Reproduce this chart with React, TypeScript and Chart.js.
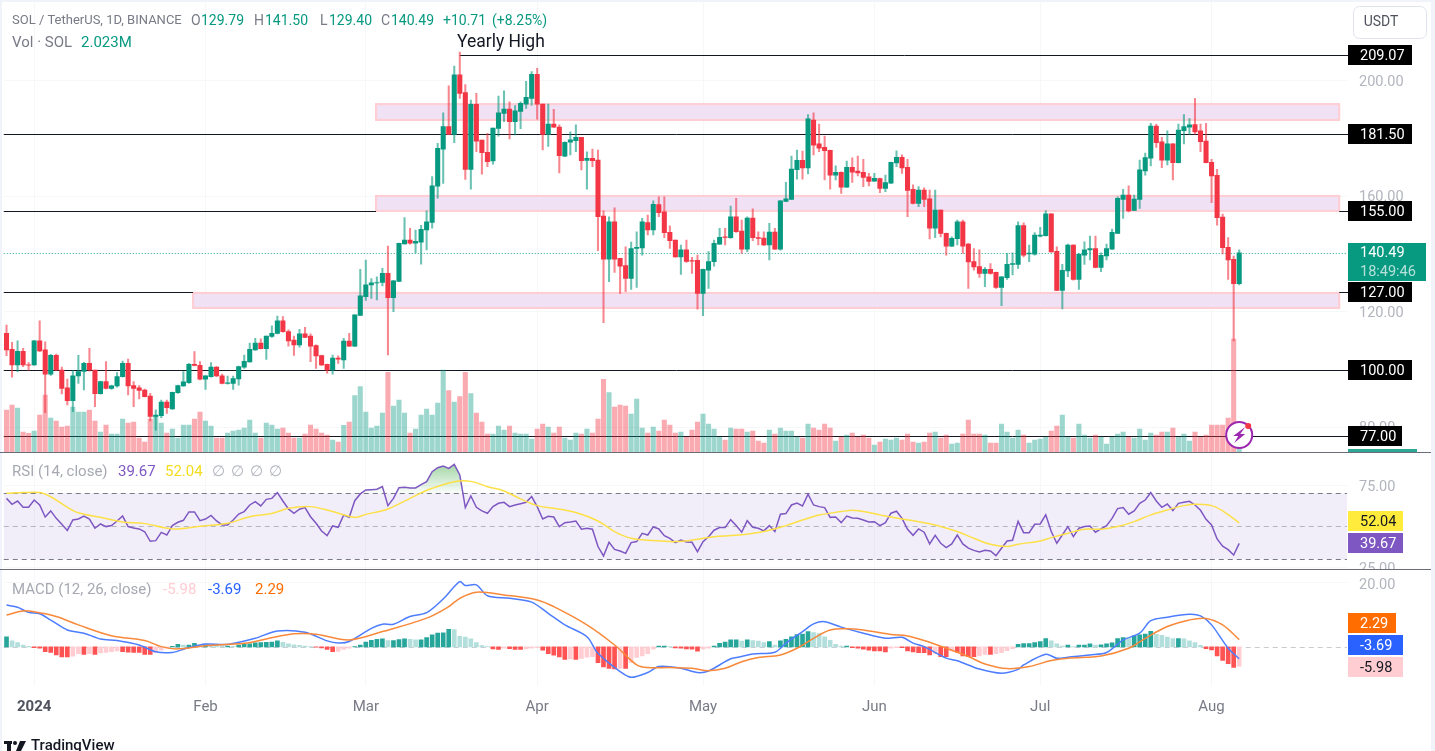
import { useEffect, useRef } from 'react';
import { Chart, registerables } from 'chart.js';

Chart.register(...registerables);

const SLOT_COUNT = 243;
const opens = [
  112.6,107.1,101.7,106.4,101.7,101.7,110,106.9,98.5,105,
  99.9,93.7,89.3,97.9,99.4,102.2,99.9,91.7,95.9,93.5,
  94.4,97.6,102.2,94.5,93.7,93,90.9,83.8,84.1,88.8,
  86.4,92.1,94.4,95.5,101.9,101.5,96.7,97.6,100.9,97.9,
  95.3,95.3,96.8,100.9,102.7,106.9,109.2,107.3,111.5,112.6,
  116.9,113.2,110.3,108.6,112.4,111.7,108.4,104.9,101.9,99.9,
  104,103.4,109.9,108.2,118.8,125.3,129.4,130.1,130.2,133.4,
  125,130.6,143.6,144.9,143.8,144.2,148.4,151,163.6,176.4,
  184.2,181.5,202.1,196,169.4,191.9,179.5,175.3,172.3,183.6,
  188.8,190.3,185.9,189.5,192,194,202.3,192,181.5,185.1,
  184,174,178.8,179.3,180.5,172.5,173.2,172.6,153.2,138.3,
  151.2,138.6,136.1,131.6,142,142.2,151,148.4,157.2,154.7,
  147.6,144.9,139.1,141.5,137.8,137.9,126.4,134.5,137.4,143.5,
  146,145.7,153,148,141.8,152.5,145.8,145.6,143.2,147.7,
  141.8,158.3,159,169.3,172.5,169.9,186.5,178.2,177,176,
  167.4,168.4,163.2,170.1,168.8,168.4,166.8,165.3,166.2,162.8,
  164.6,171.6,173.6,170.1,162.5,157.6,162.2,159.2,149,155.3,
  147.2,142.8,145.4,151.2,143.5,137.5,135.7,133.4,134.8,133.7,
  128.5,131.9,136.5,136.5,149.9,140.1,140,146.3,146.4,154,
  141,127.5,134.2,143.2,131.3,139.7,141.5,142,135.4,139.4,
  141.8,147.2,159,160.5,155.2,159,168.9,173.3,184.4,178.9,
  172.6,178.2,171.7,182.8,184,184.9,182.7,179.2,171.8,167.3,
  152.9,142.4,138.2,129.79,
];
const closes = [
  106.9,101.7,106.4,101.7,101.6,110,106.5,98.5,105,99.9,
  93.5,89.3,97.9,99.4,102.2,99.9,91.7,95.9,93.5,94.4,
  97.6,102.2,94.4,93.5,92.8,90.7,83.8,84.3,88.8,86.9,
  92.2,94.5,95.8,101.9,101.5,96.7,97.9,100.9,97.9,95.3,
  95.5,96.9,101.1,102.9,107.1,109.2,107.3,111.7,112.6,116.9,
  113.2,110,108.6,112.4,111.2,108.2,104.8,101.7,99.9,104,
  103.7,109.9,108.2,119,125.6,129.4,130.1,130.2,133.4,125,
  130.8,143.8,144.9,143.8,144.5,148.6,151.2,163.7,176.7,184.2,
  181.5,202.1,195.7,169.4,191.9,179.2,175.2,172.1,183.7,189,
  190.3,185.9,189.7,192.3,194.3,202.3,192,181.5,185.1,184,
  174.1,178.8,179.6,180.5,172.4,173.2,172.4,153,138.3,151.2,
  138.3,135.9,131.6,142,142.4,151.2,148.4,157.3,154.4,147.5,
  144.7,139.1,141.5,137.5,137.6,126.4,134.8,137.5,143.8,145.9,
  145.8,153,147.8,141.8,152.5,145.7,145.5,143.2,147.7,141.8,
  158.5,159.2,169.5,172.5,169.9,186.9,177.8,176.7,175.9,167.4,
  168.4,163.2,170.1,168.4,168.2,166.6,165.2,166.3,162.8,164.8,
  171.8,173.6,169.9,162.1,157.6,162.2,159,149,155.3,147.2,
  142.8,145.5,151.2,142.8,137.3,135.6,133.4,134.8,133.4,128.5,
  132.2,136.5,136.8,149.9,139.7,140.4,146.6,146.6,154,140.8,
  127.5,134.4,143.2,131.3,140,141.5,142,135.4,139.6,142,
  147.6,159.4,160.5,155,159.1,169.2,173.5,184.4,178.6,172.6,
  178.2,171.7,183,184.2,184.8,182.4,179,171.7,167.1,152.7,
  142.3,138,129.79,140.49,
];
const highs = [
  115.5,109.5,110,107.4,102.5,110.2,116.9,109.7,105.3,105.4,
  100.9,96.8,99.7,105,102.6,107.4,99.9,96.1,102.8,94.7,
  99,103,103.7,95.9,94.5,93.3,91.8,86.1,89.5,89.5,
  92.3,94.7,99.4,102.2,106.3,102.8,98,102.5,101.1,98.5,
  97.8,97.8,101.3,105.1,109.2,110.9,110.7,111.7,115.2,118.6,
  118.4,113.8,111.7,114,114.7,112.4,108.6,105.1,102,105.1,
  104.8,110.9,112.6,119,134.8,138,131.6,132.2,135.1,142.8,
  131,143.9,152.7,149,148.4,150,155,166.9,178.4,189,
  198.3,205.2,210,198.8,193.4,195.7,179.5,181.9,183.7,194.8,
  196.6,192.8,191.5,192.8,199.9,203.3,204.4,192,192,190.2,
  184.8,178.9,182.4,184.8,180.5,175.5,176.4,176.1,155,153,
  156.1,138.6,142.6,144.2,147.8,152.4,153.6,158.5,159.9,159.9,
  149.8,144.9,143.2,144.9,138.9,139.7,134.9,140.9,144.9,149,
  149,156.7,159.4,151.8,153,155.7,147.8,147.8,150.7,149,
  158.6,164.9,174,176.1,175.7,188.4,189,185.1,180.9,176.1,
  170.6,168.5,172.3,173.4,174,172.9,168,168,166.4,167.4,
  171.9,175.8,174.4,172.9,164,163.4,163,162.2,162.2,155.4,
  147.3,146,151.8,151.8,143.8,142,141.5,135.4,136.8,133.8,
  132.3,140.3,140.5,151.2,150.9,143.2,147.5,149.3,155.1,154.1,
  142.6,136.5,143.5,143.3,140.3,144.3,146.3,146.3,140.5,143.5,
  148.7,159.9,162.5,163.7,160.5,172.6,175,185.3,185.1,180.5,
  182.7,178.3,185.1,188.4,187,194,185.1,185.3,172.9,169.4,
  153.9,145.8,139.4,141.5,
];
const lows = [
  104.9,97.4,99.3,101.1,99.8,101.5,106.3,85.1,98,99.7,
  91.6,87.8,85.5,95.3,93,99.5,87.2,91.5,93.4,93.2,
  94,97.4,91.3,87.2,89.9,90.6,82.3,79.1,83.4,84.9,
  86.3,91.8,94.2,95.3,101.3,96.5,93.2,97.4,97.6,95.1,
  95,93.2,94.7,100.5,102.6,106.7,107.2,103.6,111.2,112.4,
  113,108.2,105,107.8,111.1,102.8,100.5,101.4,98.8,98.5,
  102.2,100.5,108.1,108,118.7,124,124.7,124.2,129,105.1,
  120.1,130.5,143.5,143.5,140.5,136.6,141.5,149,159.4,164.5,
  181.4,178.6,194,165.9,162.5,175.5,167.7,170.3,171.2,180.9,
  185.9,179.9,181.3,183.5,190.5,191.6,186.8,176.1,177.3,183.9,
  168.2,173.8,174.4,175.5,169.2,162.5,170.3,141.2,116.3,130.5,
  133.7,126.4,127,127.8,128.5,139.7,146.7,146.7,153,145.7,
  142,139,133,137.2,133.4,121,118.7,128.2,135.9,143.4,
  143.2,145.5,147.6,140.3,140.9,144.7,143.2,143,138,141.7,
  141.4,158.2,159,166,166,167.8,174.4,175.5,165.7,162.5,
  165.7,161.1,163.1,164.9,167.1,163.4,163.7,165.2,161.3,161.7,
  164.5,170.3,168,153,157.4,156.5,156.5,145.3,145.7,146,
  139.7,142.6,143.2,140.3,128.2,134.5,132,128.8,133.1,128.2,
  122.2,131.3,132.8,135.1,139.1,137.4,139.7,146,146.3,140.7,
  127.4,121.1,132.2,131,127.8,136.5,138,135.3,134,138,
  141.7,147.1,152.4,154.7,155.1,155.9,167.4,170.6,177,170,
  170.9,165.7,171.6,178.2,181.5,181.6,175.5,171.6,157.9,150.1,
  140.1,131.3,110,129.4,
];
const volumes = [
  25.2,28.2,26.4,12,11.2,12.6,22.2,34.2,20.4,18.6,
  15,15.6,27,24,24,25.2,18.6,12,16.2,10.8,
  10.8,19.8,17.4,18,8.4,6,19.8,21.6,17.4,11.4,
  13.8,8.4,16.2,16.2,19.8,24,18.6,15.6,8.4,8.4,
  11.4,12.6,13.2,14.4,19.2,11.4,8.4,17.4,16.2,13.8,
  14.4,11.4,8.4,8.4,10.8,16.2,13.8,11.4,10.2,7.2,
  6,16,18,33.8,39.2,24,14.4,15.6,23.4,47.8,
  27.6,31.2,23.4,11.4,13.8,22.2,25.8,22.2,29.4,49.2,
  36.8,30,33.2,47.8,35,23.4,18,10.8,10.8,15.6,
  13.2,15.6,11.4,10.8,10.8,7.8,13.8,16.8,15,11.4,
  15,8.4,7.2,11.4,10.8,13.8,11.4,19.8,43.6,35.6,
  27,28.2,27.6,22.8,31.8,14.4,11.4,15,12.6,19.2,
  16.2,11.4,12,9,13.2,18,22.8,16.8,13.8,9,
  7.2,14.4,13.8,13.8,12,12.6,6.6,5.4,13.2,10.8,
  14.4,12.6,12.6,9,8.4,16.8,14.4,13.2,16.8,14.4,
  6.6,9,10.2,11.4,9,10.2,8.4,4.2,6,7.8,
  7.2,8.4,7.2,10.8,6,5.4,6,11.4,12,8.4,
  10.2,4.8,5.4,10.8,19.2,10.8,10.8,10.2,5.4,5.4,
  16.8,12,8.4,13.2,10.2,5.4,7.2,7.8,9,12.6,
  15.6,22.2,9,8.4,16.8,10.2,8.4,10.2,9,4.8,
  9,10.8,12,9,8.4,13.8,7.2,11.4,10.2,12,
  12,14.4,9,10.8,6.6,12,9,10.2,16.2,16.2,
  16.2,20.4,67.8,2.023,
];
const rsi = [
  66.9,63.3,65.3,61.5,61.5,65.9,62.9,55.6,59.3,54.8,
  51.2,47.5,53.8,54.4,56.2,54.4,48.8,51.4,49.8,50.4,
  53.2,56.2,49.8,49,48.4,46.7,40.9,41.3,46.3,44.7,
  50.4,52.4,53.6,58.7,58.7,53.4,54.4,56.6,53.2,50.8,
  50.8,53.8,57.4,58.9,62.9,64.9,62.3,66.3,66.9,70.4,
  65.3,60.5,57.8,60.3,61.3,55.8,51.8,47.1,44.3,50.2,
  49.4,56.8,55.4,65.5,69.6,72,72.2,72.4,74,62.5,
  66.9,73.4,73.6,73.2,73.2,75.2,77,83.1,85.5,86.5,
  85.1,87.5,81.1,61.3,68.4,61.5,59.3,57.9,61.9,63.9,
  64.5,61.9,62.9,63.7,64.5,68,61.9,54.4,56,55.6,
  49.8,52.2,52.6,53.2,48.2,48.8,48.2,37.7,32,40.3,
  36,35,33.6,40.1,40.7,45.7,44.7,49.6,48.4,44.3,
  42.7,40.1,41.7,40.5,40.3,34.6,40.7,43.7,47.6,49.2,
  49.2,54,50.4,46.4,53.4,49.4,48.8,47.2,50.4,46.8,
  57.3,57.7,62.9,64.1,62.3,69.4,62.9,61.9,61.3,55.4,
  55.6,52.2,56.2,55,54.8,53.8,52.6,52.8,50.4,52.2,
  57.9,59.1,54.8,48.2,44.5,48.4,46.4,39.3,44.5,39.7,
  37.1,39.3,44.7,39.3,36.7,35.4,34.4,35.4,35,32.2,
  36.7,41.1,41.5,53,46.1,46.1,51.2,51.4,56.9,46.8,
  39.7,44.7,49.8,43.7,48.8,49.8,50.2,46.4,48.4,50.4,
  54.8,60.7,61.3,57.3,59.3,63.9,65.9,70.4,65.3,61.5,
  63.5,59.5,63.9,64.5,65.1,62.9,59.7,54.2,50.8,42.3,
  37.9,35.8,32.6,39.67,
];
const histogram = [
  3.2,1.9,1.4,.6,.2,-.2,-.4,-1.5,-1.7,-2.5,
  -3.1,-3.1,-2.9,-2.1,-2.3,-2.1,-2.3,-1.9,-1.7,-1.5,
  -1.25,-1.5,-1.6,-1.7,-1.7,-2.3,-2.3,-1.7,-1,-.4,
  .2,.8,.6,.6,1.1,.6,.7,.5,.4,.3,
  .3,.2,.6,.8,1,1.25,1.35,1.45,1.55,1.9,
  1.45,1,.7,.5,.3,.1,-.1,-.3,-.8,-1.5,
  -1.4,-.8,-.4,.1,.6,1.55,2.1,2.4,2.5,2,
  2,2.3,2.5,2.4,2.2,2.2,2.9,3.75,4.3,4.4,
  5.5,5.4,3.3,3.1,2.5,1.35,.4,.1,-.6,-.8,
  -.4,-.5,-.8,-.8,-.6,-.4,-.2,-1,-2.1,-2.6,
  -3.1,-3.9,-3.75,-3.9,-3.6,-3.2,-3,-4.9,-6.25,-6.7,
  -6.9,-6.7,-6.7,-4.9,-3.3,-2.8,-2.1,-.7,.3,.3,
  .1,-.3,-.4,-.6,-.7,-1.35,-.7,-.4,.3,1.15,
  1.55,2.2,2.2,1.8,2.2,2,1.8,1.35,1.65,.6,
  1.9,2.4,3.2,3.85,4,4.8,4.5,4.2,3.2,2.1,
  .8,.3,.3,-.2,-.4,-.7,-1,-1.25,-1.25,-1.55,
  -.4,-.2,-.2,-1.25,-1.55,-1.75,-1.75,-2.5,-2.1,-3,
  -3,-1.25,-1.6,-2.8,-3,-3,-2.8,-2.3,-2.3,-2.1,
  -1.75,-1.15,-.5,.8,1.05,1.05,1.35,1.65,2.6,1.9,
  .95,.3,.6,.1,.6,.6,.95,.6,.7,.95,
  1.25,2.6,2.9,2.8,3.45,3.75,4,4.9,3.95,3.65,
  3.1,2.6,2.6,2.5,1.9,1.35,.5,-.5,-.95,-2.8,
  -4.2,-5.2,-6.4,-5.98,
];

const rsiMaAt = [0,3,6,8,11,13,17,21,25,30,35,40,44,48,51,55,59,63,65,69,74,77,81,84,87,90,93,96,99,103,107,110,113,117,121,125,128,132,137,141,144,147,151,153,155,158,161,165,168,172,175,178,181,183,187,189,192,195,198,201,204,207,210,213,215,218,220,223];
const rsiMaValues = [70,70.4,70.4,67.9,61.5,58.2,55.4,52.6,51.6,48.4,50,51.8,55.8,57.8,60.9,61.9,58.9,55.4,57.2,60.5,68.6,73,77,77.2,74,71.4,66.6,62.5,60.9,58.3,53.2,46.8,42.7,41.3,40.7,42.1,43.7,44.5,46.8,50.4,53.8,56.8,58.9,59.7,58.9,56.9,55,52.8,50.8,46.8,42.7,39.1,37.7,39.1,41.1,43.1,45.8,48.2,48.2,49.8,52.8,56.9,59.9,62.5,63.3,62.5,59.3,52.04];
const macdAt = [0,2,4,6,8,11,14,17,20,24,27,30,33,36,40,45,49,54,58,60,62,66,68,70,73,76,79,82,83,85,87,91,95,98,101,105,107,111,113,116,118,122,125,127,131,133,135,139,141,144,146,148,151,155,159,162,164,166,170,172,176,180,183,184,188,190,192,196,199,202,205,207,210,214,216,218,221,223];
const macdValues = [13.1,12.4,10.8,10.4,8.4,5.3,4.3,2.5,2,.6,-1.5,-1.7,-.2,.9,.8,2.7,5,4.6,1.9,1.25,1.7,5.8,7.1,7.1,9.5,10.7,15,20.4,19.2,19.4,16,15.2,14,10.5,6.9,3.2,-2,-7.7,-9.5,-8,-6.1,-6.65,-8,-7.5,-3.7,-3,-2.2,-1.65,1.2,4.8,7.2,7.9,6.2,4.3,2.7,3,1.2,.1,-3.5,-4.3,-6.9,-8.2,-7,-5.6,-2.3,-3.5,-3.2,-2.5,-1.75,2.2,4.3,8.2,9.3,10.2,9.7,6.9,-.4,-3.69];
const signalAt = [0,3,5,9,13,19,25,28,31,36,43,47,52,56,62,68,76,80,82,85,90,96,99,105,110,114,116,120,124,127,130,133,136,140,143,146,149,152,155,160,163,166,170,174,177,181,185,189,192,198,203,206,210,214,217,220,223];
const signalValues = [10,11.25,11,9.5,6.9,3.5,2,.1,-.6,.4,1.15,2.5,4.1,4,2.2,4.8,9,12.6,15.2,17.1,16.25,14.7,12.6,6.9,.6,-5.6,-6.45,-6.45,-6.65,-7.4,-6.65,-4.6,-3.3,-2.5,-.4,2.7,5.3,5.7,5.3,3.9,3.45,2,-.4,-3,-5.3,-6.75,-6.1,-4.25,-3.5,-2.8,-.4,2.7,6.4,8.45,8.9,6.9,2.29];

const tickIndexes = [5, 36, 65, 96, 126, 157, 187, 218];
const tickNames = ['2024', 'Feb', 'Mar', 'Apr', 'May', 'Jun', 'Jul', 'Aug'];
const priceTicks = [200, 160, 120, 80];
const rsiTicks = [75, 25];
const macdTicks = [20];
const lastPrice = 140.49;

const UP = '#089981';
const DOWN = '#f23645';
const FONT = 'Roboto, sans-serif';

const startDate = Date.UTC(2023, 11, 26);
const labels = Array.from({ length: SLOT_COUNT }, (_, i) =>
  new Date(startDate + i * 86400000).toISOString().slice(0, 10));

const sparse = (at: number[], values: number[]) => {
  const out: (number | null)[] = new Array(opens.length).fill(null);
  at.forEach((idx, k) => { out[idx] = values[k]; });
  return out;
};

const histColor = (v: number, i: number) => {
  const prev = i > 0 ? histogram[i - 1] : v;
  if (v >= 0) return v >= prev ? '#26a69a' : '#b2dfdb';
  return v <= prev ? '#ff5252' : '#ffcdd2';
};

const fixedTicks = (values: number[]) => (scale: any) => {
  scale.ticks = values.map((value) => ({ value }));
};
const noPadding = (scale: any) => {
  scale.paddingTop = 0;
  scale.paddingBottom = 0;
  scale.paddingLeft = 0;
  scale.paddingRight = 0;
};
const fixWidth = (scale: any) => {
  scale.width = 88;
  noPadding(scale);
};

const decorations = {
  id: 'decorations',
  beforeDatasetsDraw(chart: any) {
    const { ctx, chartArea, scales } = chart;
    const { x, y, yRsi, yMacd } = scales;
    const L = chartArea.left;
    const R = chartArea.right;
    const boxRight = x.getPixelForValue(241.1);
    ctx.save();

    const boxes = [
      { from: 66.85, top: 192, bottom: 186.5 },
      { from: 66.85, top: 160.2, bottom: 155 },
      { from: 33.75, top: 126.6, bottom: 121.4 },
    ];
    boxes.forEach((b) => {
      const bx = x.getPixelForValue(b.from);
      const by = y.getPixelForValue(b.top);
      const bh = y.getPixelForValue(b.bottom) - by;
      ctx.fillStyle = '#f0e1f4';
      ctx.fillRect(bx, by, boxRight - bx, bh);
      ctx.strokeStyle = '#ffcdd2';
      ctx.lineWidth = 2;
      ctx.strokeRect(bx, by, boxRight - bx, bh);
    });

    const segments: [number, number, number][] = [
      [209.07, x.getPixelForValue(82), R + 2],
      [181.5, L, R + 2],
      [155, L, x.getPixelForValue(66.85)],
      [155, boxRight, R + 2],
      [127, L, x.getPixelForValue(33.75)],
      [127, boxRight, R + 2],
      [100, L, R + 2],
      [77, L, R + 2],
    ];
    ctx.strokeStyle = '#131722';
    ctx.lineWidth = 1;
    segments.forEach(([value, a, b]) => {
      const py = Math.round(y.getPixelForValue(value)) + 0.5;
      ctx.beginPath();
      ctx.moveTo(a, py);
      ctx.lineTo(b, py);
      ctx.stroke();
    });

    const lastY = Math.round(y.getPixelForValue(lastPrice)) + 0.5;
    ctx.strokeStyle = '#22ab94';
    ctx.lineWidth = 1;
    ctx.setLineDash([1, 2]);
    ctx.beginPath();
    ctx.moveTo(L, lastY);
    ctx.lineTo(R, lastY);
    ctx.stroke();
    ctx.setLineDash([]);

    const bandTop = yRsi.getPixelForValue(70);
    const bandBottom = yRsi.getPixelForValue(30);
    ctx.fillStyle = 'rgba(126,87,194,0.1)';
    ctx.fillRect(L, bandTop, R - L, bandBottom - bandTop);
    ctx.setLineDash([5, 4]);
    const dashes: [any, number, string][] = [
      [yRsi, 70, '#787b86'],
      [yRsi, 50, '#b4b6be'],
      [yRsi, 30, '#787b86'],
      [yMacd, 0, '#c8cad0'],
    ];
    dashes.forEach(([scale, value, color]) => {
      const py = Math.round(scale.getPixelForValue(value)) + 0.5;
      ctx.strokeStyle = color;
      ctx.beginPath();
      ctx.moveTo(L, py);
      ctx.lineTo(R, py);
      ctx.stroke();
    });
    ctx.restore();
  },
  afterDraw(chart: any) {
    const { ctx, scales } = chart;
    const { x, y } = scales;
    ctx.save();
    ctx.textBaseline = 'middle';

    // clip the RSI tick that falls under the pane border
    ctx.fillStyle = '#ffffff';
    ctx.fillRect(1348, 570, 80, 6);

    // pane borders and outer frame
    ctx.fillStyle = '#f0f3fa';
    ctx.fillRect(0, 0, 2, 751);
    ctx.fillRect(1431, 0, 4, 751);
    ctx.fillRect(0, 0, 1435, 2);
    ctx.fillStyle = '#6a6d78';
    ctx.fillRect(0, 452, 1431, 1);
    ctx.fillRect(0, 569, 1431, 1);

    // USDT button
    ctx.fillStyle = '#ffffff';
    ctx.strokeStyle = '#e0e3eb';
    ctx.lineWidth = 1;
    ctx.beginPath();
    ctx.roundRect(1353.5, 6.5, 73, 32, 6);
    ctx.fill();
    ctx.stroke();
    ctx.fillStyle = '#50535e';
    ctx.font = `14px ${FONT}`;
    ctx.textAlign = 'center';
    ctx.fillText('USDT', 1381, 22);
    ctx.textAlign = 'left';

    const tag = (cy: number, text: string, bg: string, fg: string, w: number) => {
      ctx.fillStyle = bg;
      ctx.fillRect(1348, cy - 10, w, 20);
      ctx.fillStyle = fg;
      ctx.font = `14.5px ${FONT}`;
      ctx.fillText(text, 1360, cy + 1);
    };
    [[209.07, 64], [181.5, 64], [155, 64], [127, 64], [100, 64], [77, 54]].forEach(([value, w]) => {
      tag(Math.round(y.getPixelForValue(value)), value.toFixed(2), '#000000', '#ffffff', w);
    });
    ctx.fillStyle = UP;
    ctx.fillRect(1348, 243, 78, 38);
    ctx.fillStyle = '#ffffff';
    ctx.font = `14.5px ${FONT}`;
    ctx.fillText(lastPrice.toFixed(2), 1360, 253);
    ctx.fillStyle = 'rgba(255,255,255,0.7)';
    ctx.fillText('18:49:46', 1360, 272);
    ctx.fillStyle = 'rgba(8,153,129,0.85)';
    ctx.fillRect(1348, 449, 69, 3);
    tag(521, '52.04', '#ffeb3b', '#131722', 55);
    tag(543, '39.67', '#7e57c2', '#ffffff', 55);
    tag(623, '2.29', '#ff6d00', '#ffffff', 48);
    tag(645, '-3.69', '#2962ff', '#ffffff', 55);
    tag(667, '-5.98', '#ffcdd2', '#131722', 55);

    // legends
    const legend = (text: string, px: number, py: number, color: string) => {
      ctx.fillStyle = color;
      ctx.fillText(text, px, py);
    };
    ctx.font = `13px ${FONT}`;
    legend('SOL / TetherUS, 1D, BINANCE', 12, 21, '#787b86');
    ctx.font = `14px ${FONT}`;
    legend('O', 191, 21, '#787b86');
    legend('129.79', 201, 21, UP);
    legend('H', 254, 21, '#787b86');
    legend('141.50', 265, 21, UP);
    legend('L', 320, 21, '#787b86');
    legend('129.40', 329, 21, UP);
    legend('C', 381, 21, '#787b86');
    legend('140.49', 391, 21, UP);
    legend('+10.71', 443, 21, UP);
    legend('(+8.25%)', 492, 21, UP);
    ctx.font = `15px ${FONT}`;
    legend('Vol · SOL', 12, 43, '#787b86');
    legend('2.023M', 81, 43, UP);
    legend('RSI (14, close)', 12, 472, '#a6a9b2');
    legend('39.67', 118, 472, '#7e57c2');
    legend('52.04', 165, 472, '#f5dd1e');
    ['∅', '∅', '∅', '∅'].forEach((s, k) => legend(s, 212 + k * 19, 472, '#b2b5be'));
    legend('MACD (12, 26, close)', 12, 590, '#a6a9b2');
    legend('-5.98', 163, 590, '#ffcdd2');
    legend('-3.69', 208, 590, '#2962ff');
    legend('2.29', 255, 590, '#ff6d00');

    ctx.font = `17.5px ${FONT}`;
    legend('Yearly High', 457, 43, '#131722');

    // event badge on the price pane
    const bx = x.getPixelForValue(223);
    const by = 435;
    ctx.fillStyle = '#ffffff';
    ctx.strokeStyle = '#9c27b0';
    ctx.lineWidth = 2;
    ctx.beginPath();
    ctx.arc(bx, by, 13, 0, Math.PI * 2);
    ctx.fill();
    ctx.stroke();
    ctx.fillStyle = '#9c27b0';
    ctx.beginPath();
    ctx.moveTo(bx + 6, by - 8);
    ctx.lineTo(bx - 6, by + 1);
    ctx.lineTo(bx - 1, by + 1);
    ctx.lineTo(bx - 5, by + 8);
    ctx.lineTo(bx + 6, by - 1);
    ctx.lineTo(bx + 1, by - 1);
    ctx.closePath();
    ctx.fill();
    ctx.fillStyle = '#f23645';
    ctx.beginPath();
    ctx.arc(bx + 9, by - 9, 3, 0, Math.PI * 2);
    ctx.fill();

    // attribution
    ctx.fillStyle = '#131722';
    ctx.fillRect(4, 741, 8, 3);
    ctx.fillRect(7, 741, 4, 10);
    ctx.beginPath();
    ctx.arc(15, 743, 2, 0, Math.PI * 2);
    ctx.fill();
    ctx.beginPath();
    ctx.moveTo(20, 741);
    ctx.lineTo(26, 741);
    ctx.lineTo(21, 751);
    ctx.lineTo(16, 751);
    ctx.closePath();
    ctx.fill();
    ctx.font = `500 15px ${FONT}`;
    ctx.fillText('TradingView', 31, 746);
    ctx.restore();
  },
};

export default function App() {
  const ref = useRef<HTMLCanvasElement>(null);

  useEffect(() => {
    const canvas = ref.current as HTMLCanvasElement;
    const g = canvas.getContext('2d') as CanvasRenderingContext2D;
    const overbought = g.createLinearGradient(0, 462, 0, 493);
    overbought.addColorStop(0, 'rgba(76,175,80,0.55)');
    overbought.addColorStop(1, 'rgba(76,175,80,0.03)');

    const upDown = (i: number) => closes[i] >= opens[i];
    const chart = new Chart(canvas, {
      type: 'bar',
      plugins: [decorations],
      data: {
        labels,
        datasets: [
          {
            label: 'Volume',
            data: volumes,
            yAxisID: 'yVol',
            grouped: false,
            barThickness: 4.4,
            order: 10,
            backgroundColor: volumes.map((_, i) => (upDown(i) ? 'rgba(8,153,129,0.4)' : 'rgba(242,54,69,0.42)')),
          },
          {
            label: 'Wick',
            data: lows.map((l, i) => [l, highs[i]]),
            yAxisID: 'y',
            grouped: false,
            barThickness: 1.4,
            order: 5,
            backgroundColor: lows.map((_, i) => (upDown(i) ? 'rgba(8,153,129,0.6)' : 'rgba(242,54,69,0.6)')),
          },
          {
            label: 'SOLUSDT',
            data: opens.map((o, i) => [o, closes[i]]),
            yAxisID: 'y',
            grouped: false,
            barThickness: 4.4,
            order: 4,
            backgroundColor: opens.map((_, i) => (upDown(i) ? UP : DOWN)),
          },
          {
            label: 'Histogram',
            data: histogram,
            yAxisID: 'yMacd',
            grouped: false,
            barThickness: 4,
            order: 9,
            backgroundColor: histogram.map(histColor),
          },
          {
            type: 'line',
            label: 'RSI',
            data: rsi,
            yAxisID: 'yRsi',
            borderColor: '#7e57c2',
            borderWidth: 1.5,
            pointRadius: 0,
            tension: 0,
            order: 2,
            fill: { target: { value: 70 }, above: overbought, below: 'rgba(0,0,0,0)' },
          },
          {
            type: 'line',
            label: 'RSI MA',
            data: sparse(rsiMaAt, rsiMaValues),
            yAxisID: 'yRsi',
            borderColor: '#fde047',
            borderWidth: 1.5,
            pointRadius: 0,
            spanGaps: true,
            tension: 0.35,
            order: 1,
          },
          {
            type: 'line',
            label: 'MACD',
            data: sparse(macdAt, macdValues),
            yAxisID: 'yMacd',
            borderColor: '#4d7dff',
            borderWidth: 1.5,
            pointRadius: 0,
            spanGaps: true,
            tension: 0.3,
            order: 3,
          },
          {
            type: 'line',
            label: 'Signal',
            data: sparse(signalAt, signalValues),
            yAxisID: 'yMacd',
            borderColor: '#f8893a',
            borderWidth: 1.5,
            pointRadius: 0,
            spanGaps: true,
            tension: 0.35,
            order: 2,
          },
        ] as any,
      },
      options: {
        responsive: false,
        animation: false,
        devicePixelRatio: 1,
        layout: { autoPadding: false, padding: { left: 3.75, top: 0, right: 0, bottom: 0 } },
        plugins: { legend: { display: false }, tooltip: { enabled: false } },
        scales: {
          x: {
            offset: true,
            afterFit: (scale: any) => { scale.height = 65; noPadding(scale); },
            border: { display: false },
            grid: {
              offset: false,
              drawTicks: false,
              color: (c: any) => (tickIndexes.includes(c.index) ? '#f6f7f9' : 'rgba(0,0,0,0)'),
            },
            ticks: {
              autoSkip: false,
              maxRotation: 0,
              minRotation: 0,
              padding: 12,
              color: (c: any) => (c.index === tickIndexes[0] ? '#50535e' : '#787b86'),
              font: (c: any) => ({ family: FONT, size: 15, weight: c.index === tickIndexes[0] ? 'bold' : 'normal' }),
              callback: (_v: any, i: number) => {
                const k = tickIndexes.indexOf(i);
                return k < 0 ? '' : tickNames[k];
              },
            },
          },
          y: {
            position: 'right',
            stack: 'panes',
            stackWeight: 452.5,
            weight: 1,
            min: 71.34,
            max: 228.05,
            afterFit: fixWidth,
            afterBuildTicks: fixedTicks(priceTicks),
            border: { display: false },
            grid: { drawTicks: false, color: '#f6f7f9' },
            ticks: {
              padding: 12,
              labelOffset: 1,
              color: '#b2b5be',
              font: { family: FONT, size: 14.5 },
              callback: (v: any) => Number(v).toFixed(2),
            },
          },
          yRsi: {
            position: 'right',
            stack: 'panes',
            stackWeight: 117,
            weight: 2,
            min: 23.8,
            max: 94.7,
            afterFit: fixWidth,
            afterBuildTicks: fixedTicks(rsiTicks),
            border: { display: false },
            grid: { drawTicks: false, color: '#f6f7f9' },
            ticks: {
              padding: 12,
              labelOffset: 2,
              color: '#b2b5be',
              font: { family: FONT, size: 14.5 },
              callback: (v: any) => Number(v).toFixed(2),
            },
          },
          yMacd: {
            position: 'right',
            stack: 'panes',
            stackWeight: 116.5,
            weight: 3,
            min: -12.2,
            max: 24.2,
            afterFit: fixWidth,
            afterBuildTicks: fixedTicks(macdTicks),
            border: { display: false },
            grid: { drawTicks: false, color: '#f6f7f9' },
            ticks: {
              padding: 12,
              labelOffset: 2,
              color: '#b2b5be',
              font: { family: FONT, size: 14.5 },
              callback: (v: any) => Number(v).toFixed(2),
            },
          },
          yVol: {
            display: false,
            min: -140.4,
            max: 271.2,
            afterFit: noPadding,
          },
        },
      } as any,
    });
    return () => chart.destroy();
  }, []);

  return (
    <div style={{ position: 'fixed', left: 0, top: 0, width: 1435, height: 751, background: '#ffffff', overflow: 'hidden' }}>
      <canvas ref={ref} width={1435} height={751} style={{ display: 'block' }} />
    </div>
  );
}
